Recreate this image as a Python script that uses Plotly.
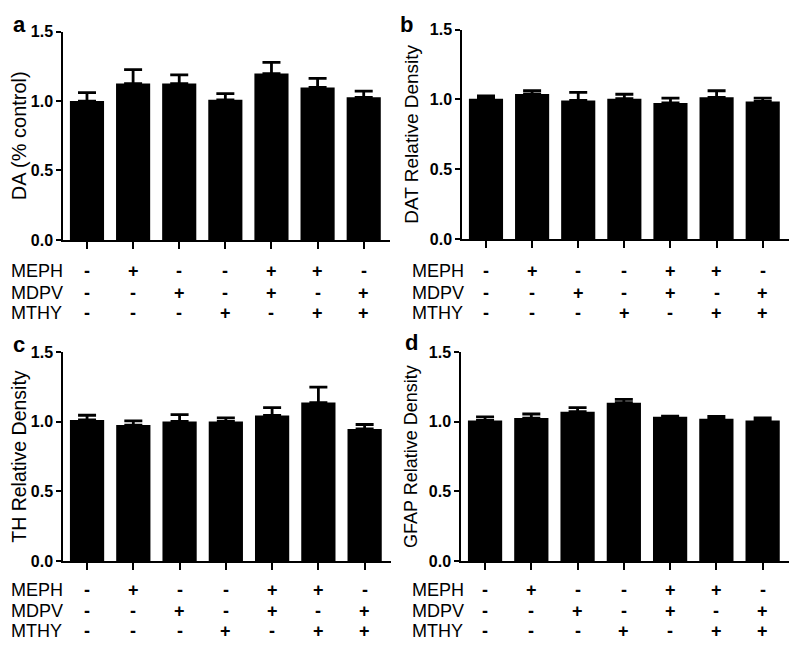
import plotly.graph_objects as go

# ---- data ----
groups = ["g1", "g2", "g3", "g4", "g5", "g6", "g7"]
MEPH = ["-", "+", "-", "-", "+", "+", "-"]
MDPV = ["-", "-", "+", "-", "+", "-", "+"]
MTHY = ["-", "-", "-", "+", "-", "+", "+"]
row_names = ["MEPH", "MDPV", "MTHY"]

da_mean = [1.00, 1.126, 1.126, 1.009, 1.198, 1.098, 1.027]
da_sem = [0.060, 0.100, 0.063, 0.045, 0.080, 0.065, 0.044]
dat_mean = [1.005, 1.038, 0.992, 1.005, 0.975, 1.015, 0.985]
dat_sem = [0.020, 0.024, 0.058, 0.032, 0.034, 0.047, 0.024]
th_mean = [1.012, 0.976, 1.002, 1.002, 1.045, 1.137, 0.948]
th_sem = [0.034, 0.030, 0.048, 0.025, 0.056, 0.110, 0.032]
gfap_mean = [1.009, 1.026, 1.072, 1.136, 1.035, 1.021, 1.009]
gfap_sem = [0.025, 0.029, 0.029, 0.024, 0.005, 0.017, 0.018]

y_ticks = [0.0, 0.5, 1.0, 1.5]
y_ticktext = ["0.0", "0.5", "1.0", "1.5"]

panels = [
    dict(letter="a", title="DA (% control)", mean=da_mean, sem=da_sem),
    dict(letter="b", title="DAT Relative Density", mean=dat_mean, sem=dat_sem),
    dict(letter="c", title="TH Relative Density", mean=th_mean, sem=th_sem),
    dict(letter="d", title="GFAP Relative Density", mean=gfap_mean, sem=gfap_sem),
]
title_sizes = [20, 19, 19.5, 18]

# page body margin (8px each side) compensation: figure fits inside the viewport
OFF = 8
W, H = 800 - 2 * OFF, 661 - 2 * OFF


def px_x(v):
    return (v - OFF) / W


def px_y(v):
    return 1 - (v - OFF) / H


# plot-area pixel boxes in the page: (left, right, top, bottom)
boxes = [(63, 390, 24, 238), (462, 789, 22, 237), (63, 391, 353, 568), (461, 789, 353, 568)]
sign_rows_px = [[270, 292, 313], [270, 292, 313], [598, 619, 640], [598, 619, 640]]
label_x_px = [10, 411, 10, 411]
letter_px = [(19, 17), (406, 17), (19, 345), (411, 343)]

FONT = "Liberation Sans, Arial, sans-serif"
fig = go.Figure()
idx = list(range(len(groups)))

for k, p in enumerate(panels):
    n = k + 1
    xa = "x" if n == 1 else f"x{n}"
    ya = "y" if n == 1 else f"y{n}"
    fig.add_trace(go.Bar(
        x=idx, y=p["mean"], xaxis=xa, yaxis=ya, width=0.74,
        marker=dict(color="black", line=dict(width=0)),
        error_y=dict(type="data", array=p["sem"], arrayminus=[0] * len(groups),
                     symmetric=False, color="black", thickness=2.8, width=9),
        showlegend=False,
    ))
    l, r, t, b = boxes[k]
    xdom = [px_x(l), min(1.0, px_x(r))]
    ydom = [px_y(b), px_y(t)]
    xkey = "xaxis" if n == 1 else f"xaxis{n}"
    ykey = "yaxis" if n == 1 else f"yaxis{n}"
    fig.update_layout(**{
        xkey: dict(domain=xdom, anchor=ya, range=[-0.52, 6.57], tickvals=idx,
                   showticklabels=False, ticks="outside", ticklen=7, tickwidth=1.5,
                   tickcolor="black", showline=True, linecolor="black", linewidth=1.5,
                   showgrid=False, zeroline=False, fixedrange=True),
        ykey: dict(domain=ydom, anchor=xa, range=[0, 1.5], tickvals=y_ticks,
                   ticktext=y_ticktext, ticks="outside", ticklen=5, tickwidth=1.5,
                   tickcolor="black", showline=True, linecolor="black", linewidth=1.5,
                   showgrid=False, zeroline=False,
                   tickfont=dict(family=FONT, size=16, color="black", weight="bold"),
                   title=dict(text=p["title"], standoff=6,
                              font=dict(family=FONT, size=title_sizes[k], color="black"))),
    })
    # sign table
    for row, (name, signs) in enumerate(zip(row_names, [MEPH, MDPV, MTHY])):
        ypx = sign_rows_px[k][row]
        fig.add_annotation(text=name, xref="paper", yref="paper",
                           x=px_x(label_x_px[k]), y=px_y(ypx), xanchor="left",
                           yanchor="middle", showarrow=False, borderpad=0,
                           font=dict(family=FONT, size=18, color="black"))
        for i, s in enumerate(signs):
            fig.add_annotation(text=f"<b>{s}</b>", xref=xa, yref="paper", x=i, y=px_y(ypx),
                               xanchor="center", yanchor="middle", showarrow=False,
                               font=dict(family=FONT, size=18, color="black"))
    lx, ly = letter_px[k]
    fig.add_annotation(text=f"<b>{p['letter']}</b>", xref="paper", yref="paper",
                       x=px_x(lx), y=px_y(ly), xanchor="center", yanchor="middle",
                       showarrow=False, font=dict(family=FONT, size=22, color="black"))

fig.update_layout(width=W, height=H, margin=dict(l=0, r=0, t=0, b=0),
                  paper_bgcolor="white", plot_bgcolor="white", bargap=0.26)
fig.write_html("out.html")
